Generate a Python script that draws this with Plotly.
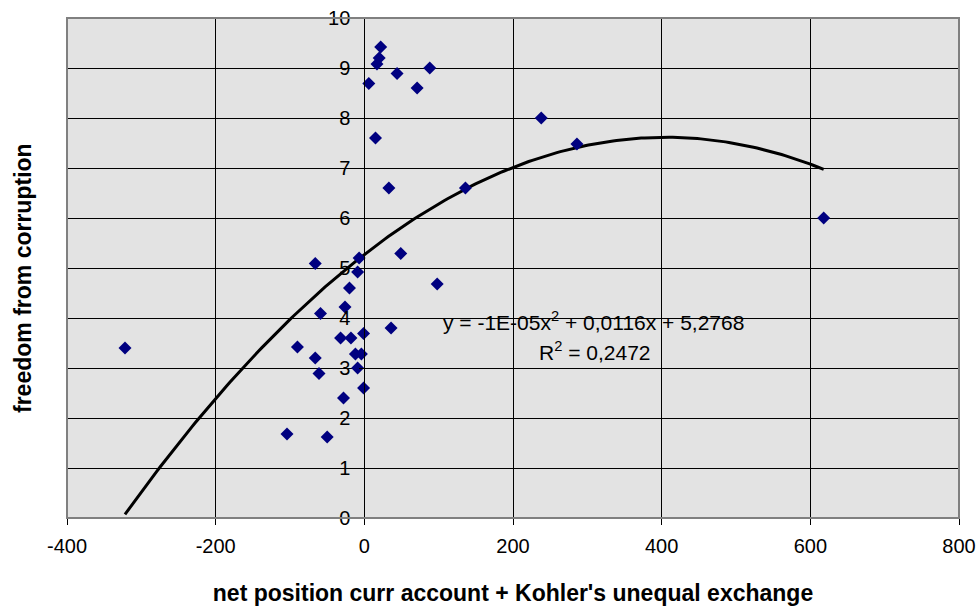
import numpy as np
import plotly.graph_objects as go

x_vals = [22, 20, 17, 6, 44, 88, 71, 15, 33, 136, -7, -66, -9, 49, 98, -20, -26, -59,
          36, -1, -32, -18, -90, -66, -12, -4, -61, -9, -1, -28, -104, -50, -322,
          238, 286, 618]
y_vals = [9.42, 9.2, 9.08, 8.69, 8.89, 9.0, 8.6, 7.6, 6.6, 6.6, 5.2, 5.09, 4.92, 5.29,
          4.68, 4.6, 4.22, 4.09, 3.8, 3.69, 3.6, 3.6, 3.42, 3.2, 3.28, 3.28, 2.89, 3.0,
          2.6, 2.4, 1.68, 1.62, 3.4, 8.0, 7.48, 6.0]
x_ticks = [-400, -200, 0, 200, 400, 600, 800]
x_ticktext = ["-400", "-200", "0", "200", "400", "600", "800"]
y_ticks = list(range(0, 11))
eq_text = "y = -1E-05x<sup>2</sup> + 0,0116x + 5,2768"
r2_text = "R<sup>2</sup> = 0,2472"

coef = np.polyfit(x_vals, y_vals, 2)
xf = np.linspace(min(x_vals), max(x_vals), 200)
yf = np.polyval(coef, xf)

font = "Liberation Sans, Arial, sans-serif"
fig = go.Figure()
fig.add_trace(go.Scatter(x=xf, y=yf, mode="lines",
                         line=dict(color="black", width=3), hoverinfo="skip"))
fig.add_trace(go.Scatter(x=x_vals, y=y_vals, mode="markers",
                         marker=dict(symbol="diamond", size=10, color="#000080",
                                     line=dict(width=0))))

fig.update_layout(
    width=979, height=606,
    margin=dict(l=67, r=20, t=18, b=88),
    paper_bgcolor="white", plot_bgcolor="#E3E3E3",
    showlegend=False,
    font=dict(family=font, size=20, color="black"),
    xaxis=dict(range=[-400, 800], tickvals=x_ticks, ticktext=x_ticktext, showgrid=True,
               gridcolor="black", gridwidth=1, zeroline=False, ticks="outside", ticklen=6,
               tickcolor="black", showline=True, linecolor="black", linewidth=1,
               automargin=False, ticklabelstandoff=4,
               title=dict(text="<b>net position curr account + Kohler's unequal exchange</b>",
                          font=dict(size=23), standoff=30),
               tickfont=dict(size=20)),
    yaxis=dict(range=[0, 10], tickvals=y_ticks, showgrid=True, gridcolor="black",
               gridwidth=1, zeroline=False, ticks="outside", ticklen=5, tickcolor="black",
               showline=True, linecolor="black", linewidth=1, automargin=False,
               ticklabelstandoff=5,
               anchor="free", position=1/3, tickfont=dict(size=20)),
    annotations=[
        dict(x=0, y=0.5, xref="paper", yref="paper", xanchor="center", yanchor="middle",
             xshift=-44, yshift=-10, text="<b>freedom from corruption</b>",
             textangle=-90, showarrow=False, font=dict(size=23)),
        dict(x=308, y=3.95, xref="x", yref="y", text=eq_text, showarrow=False,
             font=dict(size=21)),
        dict(x=310, y=3.35, xref="x", yref="y", text=r2_text, showarrow=False,
             font=dict(size=21)),
    ],
    shapes=[dict(type="rect", xref="paper", yref="paper", x0=0, y0=0, x1=1, y1=1,
                 line=dict(color="#808080", width=2), layer="above")],
)
fig.write_html("out.html", config={"displayModeBar": False},
               post_script="document.body.style.margin='0';document.body.style.padding='0';")
